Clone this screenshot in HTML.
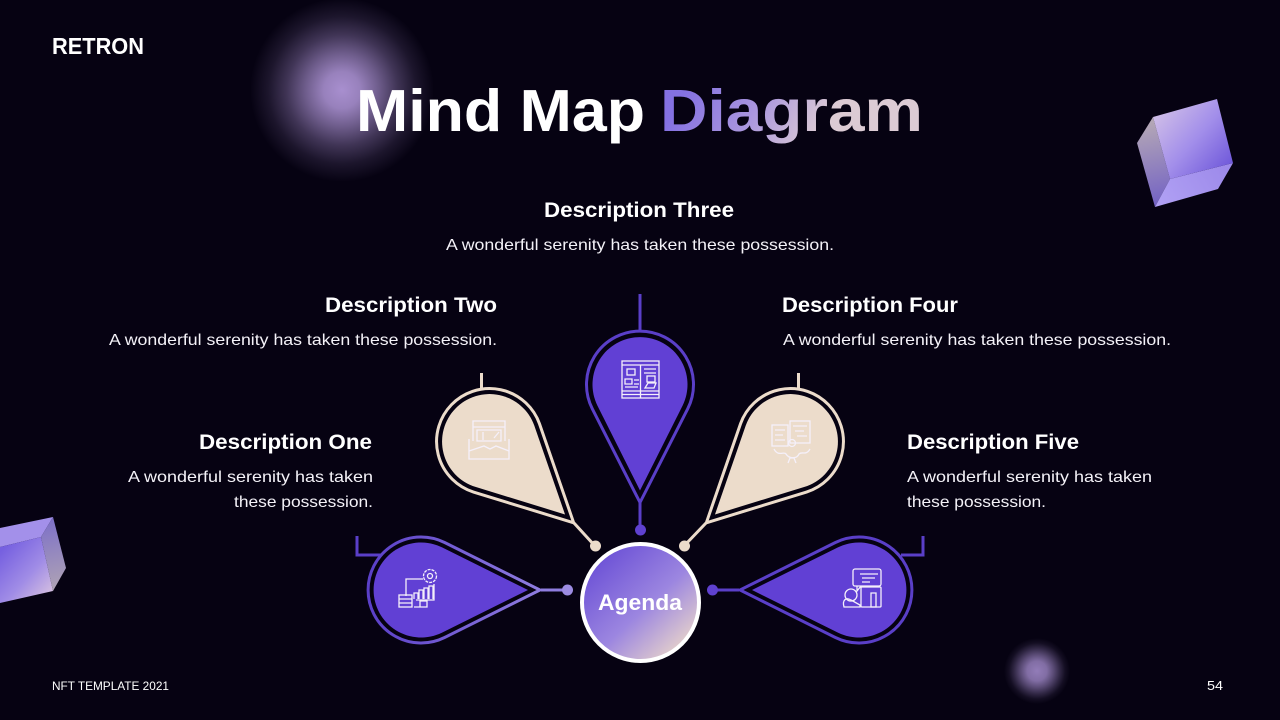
<!DOCTYPE html>
<html>
<head>
<meta charset="utf-8">
<style>
html,body{margin:0;padding:0;background:#060212;width:1280px;height:720px;overflow:hidden}
svg{display:block}
text{font-family:"Liberation Sans",sans-serif;fill:#fff}
.h{font-weight:700;font-size:21px}
.b{font-size:16px;fill:#f4f2f8}
.ic{fill:none;stroke:#f5f0fa;stroke-width:1.3}
</style>
</head>
<body>
<svg width="1280" height="720" viewBox="0 0 1280 720" xmlns="http://www.w3.org/2000/svg">
<defs>
<radialGradient id="blob1" cx="0.5" cy="0.5" r="0.5">
<stop offset="0" stop-color="#a88fcf" stop-opacity="1"/>
<stop offset="0.2" stop-color="#a88fcf" stop-opacity="0.9"/>
<stop offset="0.4" stop-color="#a88fcf" stop-opacity="0.64"/>
<stop offset="0.6" stop-color="#a88fcf" stop-opacity="0.36"/>
<stop offset="0.8" stop-color="#a88fcf" stop-opacity="0.14"/>
<stop offset="1" stop-color="#a88fcf" stop-opacity="0"/>
</radialGradient>
<radialGradient id="blob2" cx="0.5" cy="0.5" r="0.5">
<stop offset="0" stop-color="#927cb8" stop-opacity="1"/>
<stop offset="0.3" stop-color="#927cb8" stop-opacity="0.88"/>
<stop offset="0.5" stop-color="#927cb8" stop-opacity="0.6"/>
<stop offset="0.7" stop-color="#927cb8" stop-opacity="0.3"/>
<stop offset="0.85" stop-color="#927cb8" stop-opacity="0.1"/>
<stop offset="1" stop-color="#927cb8" stop-opacity="0"/>
</radialGradient>
<linearGradient id="tg" gradientUnits="userSpaceOnUse" x1="690" y1="82" x2="810" y2="150">
<stop offset="0" stop-color="#8471e2"/>
<stop offset="0.5" stop-color="#a995de"/>
<stop offset="1" stop-color="#dccbd4"/>
</linearGradient>
<linearGradient id="ag" x1="0.12" y1="0.1" x2="0.88" y2="0.92">
<stop offset="0" stop-color="#6a4fd6"/>
<stop offset="0.55" stop-color="#9c86e0"/>
<stop offset="1" stop-color="#ead6ca"/>
</linearGradient>
<linearGradient id="lp" gradientUnits="userSpaceOnUse" x1="-54" y1="0" x2="120" y2="0">
<stop offset="0" stop-color="#5a3fc8"/>
<stop offset="1" stop-color="#8f7de0"/>
</linearGradient>
<linearGradient id="c1" gradientUnits="userSpaceOnUse" x1="1160" y1="112" x2="1228" y2="170">
<stop offset="0" stop-color="#cdbbe8"/>
<stop offset="0.5" stop-color="#a28eea"/>
<stop offset="1" stop-color="#6f58da"/>
</linearGradient>
<linearGradient id="c2" gradientUnits="userSpaceOnUse" x1="1142" y1="125" x2="1160" y2="205">
<stop offset="0" stop-color="#b3a6b6"/>
<stop offset="1" stop-color="#7362c4"/>
</linearGradient>
<linearGradient id="c3" gradientUnits="userSpaceOnUse" x1="1225" y1="165" x2="1160" y2="205">
<stop offset="0" stop-color="#9d8aea"/>
<stop offset="1" stop-color="#b0a0f4"/>
</linearGradient>
<linearGradient id="c4" gradientUnits="userSpaceOnUse" x1="2" y1="550" x2="52" y2="595">
<stop offset="0" stop-color="#7660e0"/>
<stop offset="0.55" stop-color="#a08ce6"/>
<stop offset="1" stop-color="#d6c0e0"/>
</linearGradient>
<linearGradient id="c5" gradientUnits="userSpaceOnUse" x1="45" y1="520" x2="62" y2="590">
<stop offset="0" stop-color="#7d70c8"/>
<stop offset="1" stop-color="#b0a4b4"/>
</linearGradient>
</defs>

<rect width="1280" height="720" fill="#060212"/>
<circle cx="342" cy="90" r="92" fill="url(#blob1)"/>
<circle cx="1037" cy="671" r="33" fill="url(#blob2)"/>

<!-- cube right -->
<polygon points="1153,117 1137,143 1155,207 1170,179" fill="url(#c2)"/>
<polygon points="1170,179 1233,163 1218,189 1155,207" fill="url(#c3)"/>
<polygon points="1153,117 1217,99 1233,163 1170,179" fill="url(#c1)"/>
<!-- cube left -->
<polygon points="0,528 53,517 41,537 0,547" fill="#a390ea"/>
<polygon points="0,547 41,537 53,591 0,603" fill="url(#c4)"/>
<polygon points="53,517 66,568 53,591 41,537" fill="url(#c5)"/>

<!-- header -->
<text x="52" y="54" font-size="23" font-weight="700" textLength="92" lengthAdjust="spacingAndGlyphs">RETRON</text>
<text x="356" y="131" font-size="59" font-weight="700" textLength="289" lengthAdjust="spacingAndGlyphs">Mind Map</text>
<text x="660" y="131" font-size="59" font-weight="700" textLength="263" lengthAdjust="spacingAndGlyphs" style="fill:url(#tg)">Diagram</text>

<!-- descriptions -->
<text class="h" x="544" y="217" textLength="190" lengthAdjust="spacingAndGlyphs">Description Three</text>
<text class="b" x="446" y="250" textLength="388" lengthAdjust="spacingAndGlyphs">A wonderful serenity has taken these possession.</text>
<text class="h" x="325" y="312" textLength="172" lengthAdjust="spacingAndGlyphs">Description Two</text>
<text class="b" x="109" y="345" textLength="388" lengthAdjust="spacingAndGlyphs">A wonderful serenity has taken these possession.</text>
<text class="h" x="782" y="312" textLength="176" lengthAdjust="spacingAndGlyphs">Description Four</text>
<text class="b" x="783" y="345" textLength="388" lengthAdjust="spacingAndGlyphs">A wonderful serenity has taken these possession.</text>
<text class="h" x="199" y="449" textLength="173" lengthAdjust="spacingAndGlyphs">Description One</text>
<text class="b" x="128" y="482" textLength="245" lengthAdjust="spacingAndGlyphs">A wonderful serenity has taken</text>
<text class="b" x="234" y="507" textLength="139" lengthAdjust="spacingAndGlyphs">these possession.</text>
<text class="h" x="907" y="449" textLength="172" lengthAdjust="spacingAndGlyphs">Description Five</text>
<text class="b" x="907" y="482" textLength="245" lengthAdjust="spacingAndGlyphs">A wonderful serenity has taken</text>
<text class="b" x="907" y="507" textLength="139" lengthAdjust="spacingAndGlyphs">these possession.</text>

<!-- connectors -->
<path d="M357,536V555H381" fill="none" stroke="#5a3fc8" stroke-width="3"/>
<path d="M923,536V555H901" fill="none" stroke="#5a3fc8" stroke-width="3"/>
<path d="M640,294V331" stroke="#5a3fc8" stroke-width="3"/>
<path d="M481.5,373V389" stroke="#ecdccb" stroke-width="3"/>
<path d="M798.5,373V389" stroke="#ecdccb" stroke-width="3"/>
<path d="M541,590H567" stroke="#8f7de0" stroke-width="3"/>
<circle cx="567.5" cy="590" r="5.5" fill="#9c8ce2"/>
<path d="M739,590H712" stroke="#5a3fc8" stroke-width="3"/>
<circle cx="712.5" cy="590" r="5.5" fill="#5f41d0"/>
<path d="M640,502V530" stroke="#5a3fc8" stroke-width="3"/>
<circle cx="640.5" cy="530" r="5.5" fill="#5f41d0"/>
<path d="M574,523L595,546" stroke="#ecdccb" stroke-width="3"/>
<circle cx="595.5" cy="546" r="5.5" fill="#ecdccb"/>
<path d="M706,523L684,546" stroke="#ecdccb" stroke-width="3"/>
<circle cx="684.5" cy="546" r="5.5" fill="#ecdccb"/>

<!-- left purple drop -->
<g transform="translate(421,590)">
<path d="M23.6,-47.5L119,0L23.6,47.5A53,53 0 1 1 23.6,-47.5Z" fill="none" stroke="url(#lp)" stroke-width="3"/>
<path d="M21.1,-42.6L107,0L21.1,42.6A47.5,47.5 0 1 1 21.1,-42.6Z" fill="#6140d4"/>
</g>
<!-- right purple drop -->
<g transform="translate(859,590) rotate(180)">
<path d="M23.6,-47.5L119,0L23.6,47.5A53,53 0 1 1 23.6,-47.5Z" fill="none" stroke="#5a3fc8" stroke-width="3"/>
<path d="M21.1,-42.6L107,0L21.1,42.6A47.5,47.5 0 1 1 21.1,-42.6Z" fill="#6140d4"/>
</g>
<!-- top purple drop -->
<g transform="translate(640,384.5) rotate(90)">
<path d="M24.3,-47.7L118,0L24.3,47.7A53.5,53.5 0 1 1 24.3,-47.7Z" fill="none" stroke="#5a3fc8" stroke-width="3"/>
<path d="M21.1,-42.6L106,0L21.1,42.6A47.5,47.5 0 1 1 21.1,-42.6Z" fill="#6140d4"/>
</g>
<!-- beige left -->
<g transform="translate(489.5,441.5) rotate(44)">
<path d="M23.6,-47.5L117,0L23.6,47.5A53,53 0 1 1 23.6,-47.5Z" fill="none" stroke="#ecdccb" stroke-width="3"/>
<path d="M21.1,-42.6L105,0L21.1,42.6A47.5,47.5 0 1 1 21.1,-42.6Z" fill="#ecdccb"/>
</g>
<!-- beige right -->
<g transform="translate(790.5,441.5) rotate(136)">
<path d="M23.6,-47.5L117,0L23.6,47.5A53,53 0 1 1 23.6,-47.5Z" fill="none" stroke="#ecdccb" stroke-width="3"/>
<path d="M21.1,-42.6L105,0L21.1,42.6A47.5,47.5 0 1 1 21.1,-42.6Z" fill="#ecdccb"/>
</g>

<!-- center -->
<circle cx="640.5" cy="602.5" r="58.5" fill="url(#ag)" stroke="#fff" stroke-width="4"/>
<text x="598" y="610" font-size="22" font-weight="700" textLength="84" lengthAdjust="spacingAndGlyphs">Agenda</text>

<!-- icon: left purple -->
<g class="ic">
<circle cx="430" cy="576" r="6.5" stroke-dasharray="3 1"/><circle cx="430" cy="576" r="2.5"/>
<path d="M423,579H406V596M434,584V600H416"/>
<path d="M414,599V593H418V599M419,599V590H423V599M424,599V588H428V599M429,599V586H433V599"/>
<rect x="399" y="595" width="13" height="12"/><path d="M399,599H412M399,603H412"/>
<path d="M420,607H427V601H420ZM414,607H427"/>
</g>
<!-- icon: right purple -->
<g class="ic">
<rect x="853" y="569" width="28" height="17" rx="2"/>
<path d="M860,574H878M862,578H875M862,582H870"/>
<path d="M857,586V591L861,586"/>
<rect x="861" y="587" width="20" height="20" rx="1"/>
<path d="M871,593H876V607H871Z"/>
<circle cx="851" cy="595" r="6"/>
<path d="M844,607C842,600 846,597 851,600L860,605V607Z"/>
</g>
<!-- icon: top purple -->
<g class="ic">
<rect x="622" y="361" width="37" height="37"/>
<path d="M622,365H659M640.5,365V398M622,391H659M622,394.5H659"/>
<rect x="627" y="369" width="8" height="6"/>
<path d="M625,379H632V384H625ZM634,380H639M634,384H639M625,387H638M644,369H656M644,373H656"/>
<rect x="647" y="376" width="8" height="6"/>
<path d="M645,388L648,383H656L654,388Z"/>
</g>
<!-- icon: beige left -->
<g class="ic">
<path d="M473,441V421H505V441"/>
<path d="M473,427H505"/>
<path d="M477,430H501V441H477Z"/>
<path d="M469,439V459H509V439"/>
<path d="M469,451L484,446L490,449L496,446L509,451"/>
<path d="M483,432V440M494,438L499,432"/>
</g>
<!-- icon: beige right -->
<g class="ic">
<rect x="772" y="425" width="16" height="21"/>
<rect x="790" y="421" width="20" height="22"/>
<path d="M775,430H785M775,435H783M775,440H785M793,426H807M795,431H804M797,436H807"/>
<circle cx="792" cy="443" r="3.5"/>
<path d="M774,449C778,457 784,451 786,454C789,459 797,459 799,454C802,451 806,456 810,449"/>
<path d="M788,463L790,458H794L796,463"/>
</g>

<!-- footer -->
<text x="52" y="690" font-size="12" textLength="117" lengthAdjust="spacingAndGlyphs">NFT TEMPLATE 2021</text>
<text x="1207" y="690" font-size="12.5" textLength="16" lengthAdjust="spacingAndGlyphs">54</text>
</svg>
</body>
</html>
